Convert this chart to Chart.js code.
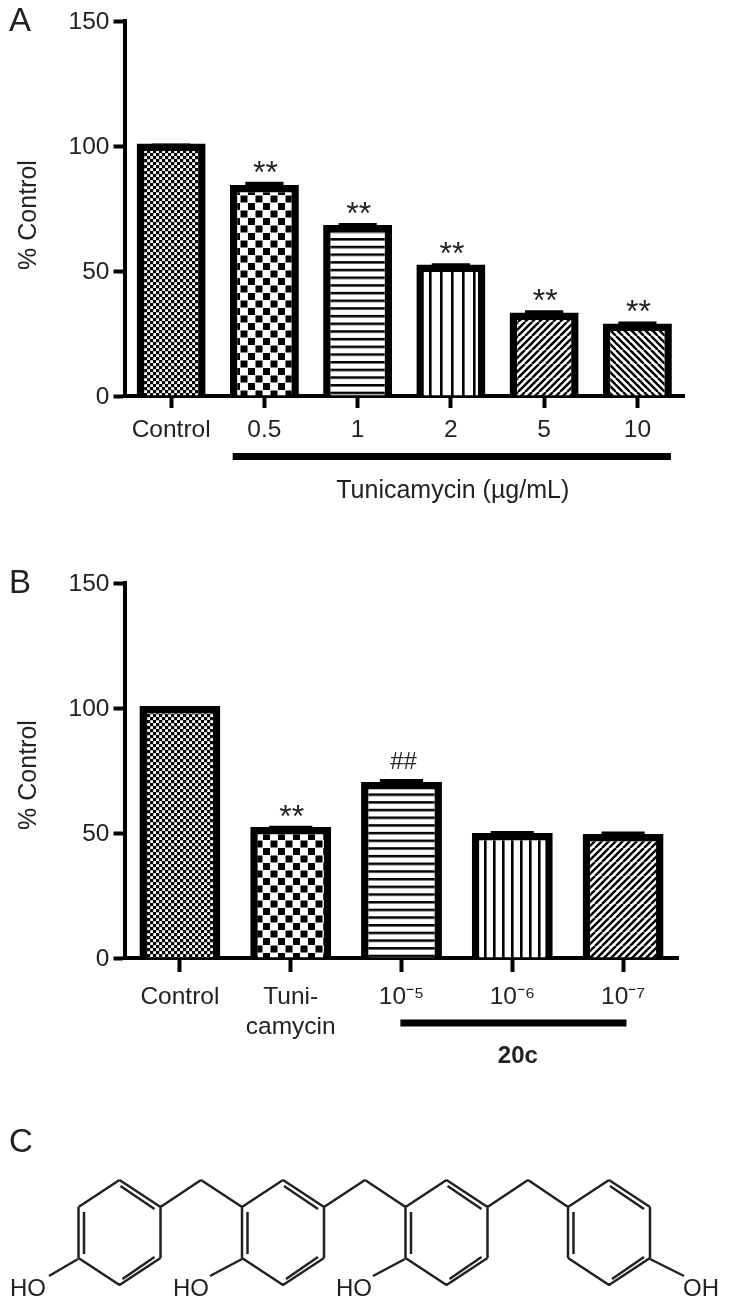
<!DOCTYPE html>
<html>
<head>
<meta charset="utf-8">
<title>Tunicamycin panels</title>
<script src="https://cdn.jsdelivr.net/npm/chart.js@4/dist/chart.umd.min.js"></script>
<style>
  html, body { margin: 0; padding: 0; background: #fff; }
  #page { position: relative; width: 729px; height: 1300px; overflow: hidden; filter: blur(0.6px); }
  canvas { position: absolute; left: 0; }
  .panel { position: absolute; left: 9px; font: 33px "Liberation Sans", Arial, sans-serif; color: #222; line-height: 33px; }
</style>
</head>
<body>
<div id="page">
  <div class="panel" style="top:3px">A</div>
  <div class="panel" style="top:565px">B</div>
  <div class="panel" style="top:1124px">C</div>
  <canvas id="chartA" width="729" height="540" style="top:0"></canvas>
  <canvas id="chartB" width="729" height="540" style="top:540px"></canvas>
  <canvas id="chartC" width="729" height="170" style="top:1130px"></canvas>
</div>
<script>
// Panel A
const labelsA = ['Control', '0.5', '1', '2', '5', '10'];
const valuesA = [101, 84.4, 68.4, 52.6, 33.4, 29];
const errorsA = [0, 1.3, 0.8, 0.5, 0.9, 0.8];
const marksA = ['', '**', '**', '**', '**', '**'];

// Panel B
const labelsB = ['Control', ['Tuni-', 'camycin'], '10⁻⁵', '10⁻⁶', '10⁻⁷'];
const valuesB = [100.8, 52.4, 70.4, 50, 49.6];
const errorsB = [0, 0.5, 1.2, 0.8, 1];
const marksB = ['', '**', '##', '', ''];

// Panel C: ring centres, bridge carbons and OH bond ends, in page pixels
const ringX = [119.5, 283, 446.5, 609];
const ringY = [1180, 1207, 1258, 1285];
const bridgeX = [201, 365, 528];
const hydroxylEnds = [[78, 49], [242, 210], [405, 373], [650, 684]];
const hydroxylLabels = ['HO', 'HO', 'HO', 'OH'];
const hydroxylLabelX = [28, 191, 354, 701];

const FONT = '"Liberation Sans", Arial, sans-serif';
const INK = '#222';

// --- Fill patterns ---
function tile(w, h, draw, scale, shift) {
    const c = document.createElement('canvas');
    c.width = w; c.height = h;
    const g = c.getContext('2d');
    g.fillStyle = '#fff';
    g.fillRect(0, 0, w, h);
    g.fillStyle = '#000';
    g.strokeStyle = '#000';
    draw(g);
    const p = g.createPattern(c, 'repeat');
    if (scale || shift) p.setTransform(new DOMMatrix().translate(shift || 0, 0).scale(scale || 1));
    return p;
}
const fineDots = () => tile(6, 6, g => {
    g.fillRect(0, 0, 6, 6);
    g.fillStyle = '#fff';
    g.fillRect(0.2, 0.2, 2.8, 2.8);
    g.fillRect(3.2, 3.2, 2.8, 2.8);
});
const checker = () => tile(15, 15, g => {
    g.fillRect(0.5, 0.5, 7, 7);
    g.fillRect(8, 8, 7, 7);
});
const hLines = () => tile(16, 16, g => {
    g.fillRect(0, 0, 16, 2.6);
    g.fillRect(0, 8, 16, 2.6);
}, 0.96);
const vLines = (gap, shift) => tile(gap, 8, g => g.fillRect(0, 0, 2.6, 8), 1, shift);
const diagonal = (dir) => tile(14, 14, g => {
    g.lineWidth = 2.4;
    [-14, -7, 0, 7, 14, 21].forEach(o => {
        g.beginPath();
        if (dir > 0) { g.moveTo(o, 14); g.lineTo(o + 14, 0); }
        else { g.moveTo(o, 0); g.lineTo(o + 14, 14); }
        g.stroke();
    });
});

// --- Labels drawn above the bars and under the axis ---
const annotations = {
    id: 'annotations',
    afterDraw(chart, args, opts) {
        const { ctx, scales: { x, y } } = chart;
        ctx.save();
        ctx.fillStyle = INK;
        ctx.textAlign = 'center';
        ctx.textBaseline = 'middle';
        // significance marks
        opts.marks.forEach((m, i) => {
            if (!m) return;
            const isStar = m[0] === '*';
            ctx.font = (isStar ? 32 : 24) + 'px ' + FONT;
            ctx.fillText(m, x.getPixelForValue(i) + (isStar ? 1 : 2), y.getPixelForValue(opts.values[i] + opts.errors[i]) - (isStar ? 8 : 17));
        });
        // group bar
        ctx.fillStyle = '#000';
        const x0 = x.getPixelForValue(opts.barFrom), x1 = x.getPixelForValue(opts.barTo);
        ctx.fillRect(x0, opts.barY - 3.5, x1 - x0, 7);
        // group caption
        ctx.fillStyle = INK;
        ctx.font = opts.captionFont;
        ctx.fillText(opts.caption, x.getPixelForValue(opts.captionAt), opts.captionY);
        // y title
        ctx.font = '25px ' + FONT;
        ctx.translate(29, opts.titleY);
        ctx.rotate(-Math.PI / 2);
        ctx.fillText('% Control', 0, 0);
        ctx.restore();
    }
};

function barChart(id, labels, values, errors, patterns, o) {
    return new Chart(document.getElementById(id), {
        type: 'bar',
        data: {
            labels: labels,
            datasets: [
                {
                    data: values,
                    backgroundColor: patterns,
                    borderColor: '#000',
                    borderWidth: 7.5,
                    borderSkipped: 'bottom',
                    grouped: false,
                    categoryPercentage: 1,
                    barPercentage: o.barPct
                },
                {
                    data: values.map((v, i) => [v - 1, v + errors[i]]),
                    backgroundColor: '#000',
                    borderWidth: 0,
                    grouped: false,
                    categoryPercentage: 1,
                    barPercentage: o.capPct
                }
            ]
        },
        options: {
            responsive: false,
            animation: false,
            devicePixelRatio: 1,
            layout: { padding: { top: o.top, right: o.right, left: 0, bottom: 0 } },
            plugins: {
                legend: { display: false },
                tooltip: { enabled: false },
                annotations: Object.assign({ marks: o.marks, values: values, errors: errors }, o.notes)
            },
            scales: {
                x: {
                    afterFit: s => { s.height = o.xHeight; },
                    grid: { offset: false, drawOnChartArea: false, tickLength: o.xTick, tickWidth: 4, tickColor: '#000' },
                    border: { color: '#000', width: 4 },
                    ticks: { color: INK, padding: o.xPad, maxRotation: 0, autoSkip: false, font: { family: FONT, size: 24.5, lineHeight: 1.2 } }
                },
                y: {
                    min: 0, max: 150,
                    afterFit: s => { s.width = 124.5; },
                    grid: { drawOnChartArea: false, tickLength: 11, tickWidth: 4, tickColor: '#000' },
                    border: { color: '#000', width: 4 },
                    ticks: { stepSize: 50, color: INK, padding: 4, labelOffset: 1.5, font: { family: FONT, size: 24.5 } }
                }
            }
        },
        plugins: [annotations]
    });
}

barChart('chartA', labelsA, valuesA, errorsA,
    [fineDots(), checker(), hLines(), vLines(11), diagonal(1), diagonal(-1)],
    {
        barPct: 0.74, capPct: 0.41, top: 21, right: 45, xHeight: 144, xTick: 12, xPad: 8, marks: marksA,
        notes: {
            barFrom: 0.66, barTo: 5.36, barY: 456.5,
            caption: 'Tunicamycin (µg/mL)', captionAt: 3.02, captionY: 491,
            captionFont: '25px ' + FONT, titleY: 215
        }
    });

barChart('chartB', labelsB, valuesB, errorsB,
    [fineDots(), checker(), hLines(), vLines(9, -2), diagonal(1)],
    {
        barPct: 0.73, capPct: 0.39, top: 43, right: 50.5, xHeight: 122, xTick: 14, xPad: 11, marks: marksB,
        notes: {
            barFrom: 1.99, barTo: 4.03, barY: 483,
            caption: '20c', captionAt: 3.05, captionY: 516,
            captionFont: 'bold 24px ' + FONT, titleY: 235
        }
    });

// --- Panel C: structure drawn as line segments on pixel-unit scales ---
const bondPoints = [];
function bond(x1, y1, x2, y2) {
    bondPoints.push({ x: x1, y: y1 }, { x: x2, y: y2 }, { x: null, y: null });
}
ringX.forEach((cx, i) => {
    const l = cx - 41, r = cx + 41;
    bond(cx, ringY[0], r, ringY[1]);
    bond(r, ringY[1], r, ringY[2]);
    bond(r, ringY[2], cx, ringY[3]);
    bond(cx, ringY[3], l, ringY[2]);
    bond(l, ringY[2], l, ringY[1]);
    bond(l, ringY[1], cx, ringY[0]);
    // inner lines of the double bonds
    bond(cx + 1, ringY[0] + 6, r - 6, ringY[1] + 2);
    bond(l + 5.5, ringY[1] + 5, l + 5.5, ringY[2] - 4);
    bond(cx + 3, ringY[3] - 6, r - 6, ringY[2] - 1);
    // hydroxyl
    const end = hydroxylEnds[i];
    bond(end[0], ringY[2] + 1, end[1], ringY[2] + 18);
    // bridge to the next ring
    if (i < bridgeX.length) {
        bond(r, ringY[1], bridgeX[i], ringY[0]);
        bond(bridgeX[i], ringY[0], ringX[i + 1] - 41, ringY[1]);
    }
});

const atomLabels = {
    id: 'atomLabels',
    afterDraw(chart) {
        const { ctx, scales: { x, y } } = chart;
        ctx.save();
        ctx.fillStyle = INK;
        ctx.font = '24px ' + FONT;
        ctx.textAlign = 'center';
        ctx.textBaseline = 'middle';
        hydroxylLabels.forEach((t, i) => ctx.fillText(t, x.getPixelForValue(hydroxylLabelX[i]), y.getPixelForValue(1289)));
        ctx.restore();
    }
};

new Chart(document.getElementById('chartC'), {
    type: 'scatter',
    data: {
        datasets: [{
            data: bondPoints,
            showLine: true,
            spanGaps: false,
            pointRadius: 0,
            borderColor: INK,
            borderWidth: 2.5
        }]
    },
    options: {
        responsive: false,
        animation: false,
        devicePixelRatio: 1,
        layout: { padding: 0 },
        plugins: { legend: { display: false }, tooltip: { enabled: false } },
        scales: {
            x: { display: false, min: 0, max: 729 },
            y: { display: false, min: 1130, max: 1300, reverse: true }
        }
    },
    plugins: [atomLabels]
});
</script>
</body>
</html>
